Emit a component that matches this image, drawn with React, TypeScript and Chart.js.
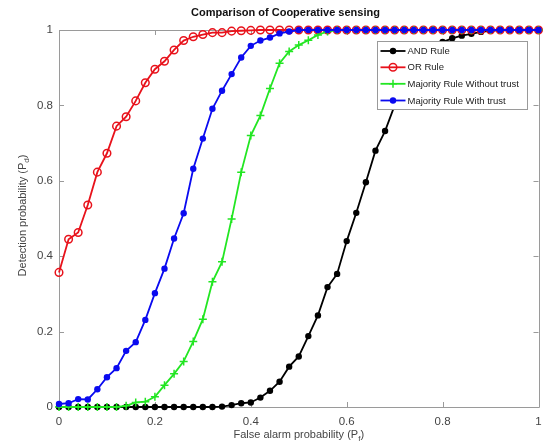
import React, { useEffect, useRef } from "react";
import { Chart, registerables } from "chart.js";

Chart.register(...registerables);

const X_VALUES = [
  0, 0.02, 0.04, 0.06, 0.08, 0.1, 0.12, 0.14, 0.16, 0.18,
  0.2, 0.22, 0.24, 0.26, 0.28, 0.3, 0.32, 0.34, 0.36, 0.38,
  0.4, 0.42, 0.44, 0.46, 0.48, 0.5, 0.52, 0.54, 0.56, 0.58,
  0.6, 0.62, 0.64, 0.66, 0.68, 0.7, 0.72, 0.74, 0.76, 0.78,
  0.8, 0.82, 0.84, 0.86, 0.88, 0.9, 0.92, 0.94, 0.96, 0.98, 1,
];

const AND_RULE = [
  0, 0, 0, 0, 0, 0, 0, 0, 0, 0,
  0, 0, 0, 0, 0, 0, 0, 0.001, 0.005, 0.01,
  0.012, 0.025, 0.043, 0.067, 0.107, 0.134, 0.188, 0.243, 0.318, 0.353,
  0.44, 0.515, 0.596, 0.68, 0.732, 0.8, 0.85, 0.89, 0.925, 0.95,
  0.968, 0.978, 0.985, 0.99, 0.995, 0.998, 1, 1, 1, 1, 1,
];

const OR_RULE = [
  0.357, 0.445, 0.463, 0.536, 0.623, 0.673, 0.745, 0.77, 0.812, 0.86,
  0.896, 0.917, 0.947, 0.972, 0.982, 0.988, 0.993, 0.993, 0.997, 0.998,
  0.999, 1, 1, 1, 1, 1, 1, 1, 1, 1,
  1, 1, 1, 1, 1, 1, 1, 1, 1, 1,
  1, 1, 1, 1, 1, 1, 1, 1, 1, 1, 1,
];

const MAJORITY_WITHOUT_TRUST = [
  0, 0, 0, 0, 0, 0, 0, 0.003, 0.012, 0.014,
  0.027, 0.058, 0.088, 0.121, 0.174, 0.233, 0.332, 0.385, 0.499, 0.623,
  0.72, 0.773, 0.845, 0.912, 0.943, 0.96, 0.973, 0.987, 0.996, 1,
  1, 1, 1, 1, 1, 1, 1, 1, 1, 1,
  1, 1, 1, 1, 1, 1, 1, 1, 1, 1, 1,
];

const MAJORITY_WITH_TRUST = [
  0.008, 0.01, 0.021, 0.02, 0.047, 0.079, 0.103, 0.149, 0.172, 0.231,
  0.302, 0.367, 0.447, 0.514, 0.632, 0.712, 0.791, 0.839, 0.883, 0.927,
  0.958, 0.972, 0.98, 0.991, 0.996, 1, 1, 1, 1, 1,
  1, 1, 1, 1, 1, 1, 1, 1, 1, 1,
  1, 1, 1, 1, 1, 1, 1, 1, 1, 1, 1,
];

const X_TICKS = [0, 0.2, 0.4, 0.6, 0.8, 1];
const Y_TICKS = [0, 0.2, 0.4, 0.6, 0.8, 1];

const SERIES_NAMES = [
  "AND Rule",
  "OR Rule",
  "Majority Rule Without trust",
  "Majority Rule With trust",
];

const TITLE = "Comparison of Cooperative sensing";
const X_LABEL = "False alarm probability (P";
const X_LABEL_SUB = "f";
const Y_LABEL = "Detection probability (P";
const Y_LABEL_SUB = "d";

const FONT = '"Liberation Sans", Arial, Helvetica, sans-serif';
const AXIS_COLOR = "#9a9a9a";
const TEXT_COLOR = "#454545";

const COLORS = ["#000000", "#e8121b", "#22e622", "#0a0af0"];
const MARKERS = ["dot", "ring", "plus", "dot"];

function toPoints(ys: number[]) {
  return X_VALUES.map((x, i) => ({ x, y: ys[i] }));
}

function drawMarker(ctx: CanvasRenderingContext2D, kind: string, color: string, x: number, y: number) {
  ctx.save();
  ctx.strokeStyle = color;
  ctx.fillStyle = color;
  if (kind === "dot") {
    ctx.beginPath();
    ctx.arc(x, y, 3.2, 0, Math.PI * 2);
    ctx.fill();
  } else if (kind === "ring") {
    ctx.lineWidth = 1.5;
    ctx.beginPath();
    ctx.arc(x, y, 3.8, 0, Math.PI * 2);
    ctx.stroke();
  } else {
    ctx.lineWidth = 1.5;
    ctx.beginPath();
    ctx.moveTo(x - 4, y);
    ctx.lineTo(x + 4, y);
    ctx.moveTo(x, y - 4);
    ctx.lineTo(x, y + 4);
    ctx.stroke();
  }
  ctx.restore();
}

const framePlugin = {
  id: "matlabFrame",
  beforeDatasetsDraw(chart: any) {
    const { ctx, chartArea } = chart;
    const { left, right, top, bottom } = chartArea;
    const xs = chart.scales.x;
    const ys = chart.scales.y;
    ctx.save();
    ctx.strokeStyle = AXIS_COLOR;
    ctx.lineWidth = 1;
    ctx.beginPath();
    ctx.rect(Math.round(left) + 0.5, Math.round(top) + 0.5, Math.round(right - left), Math.round(bottom - top));
    ctx.stroke();
    ctx.beginPath();
    X_TICKS.forEach((v) => {
      const px = Math.round(xs.getPixelForValue(v)) + 0.5;
      ctx.moveTo(px, bottom);
      ctx.lineTo(px, bottom - 5);
      ctx.moveTo(px, top);
      ctx.lineTo(px, top + 5);
    });
    Y_TICKS.forEach((v) => {
      const py = Math.round(ys.getPixelForValue(v)) + 0.5;
      ctx.moveTo(left, py);
      ctx.lineTo(left + 5, py);
      ctx.moveTo(right, py);
      ctx.lineTo(right - 5, py);
    });
    ctx.stroke();
    ctx.restore();
  },
  afterDatasetsDraw(chart: any) {
    const { ctx, chartArea } = chart;
    const boxL = Math.round(chartArea.right - 162) + 0.5;
    const boxT = Math.round(chartArea.top + 11) + 0.5;
    const boxW = 150;
    const boxH = 68;
    ctx.save();
    ctx.fillStyle = "#ffffff";
    ctx.fillRect(boxL, boxT, boxW, boxH);
    ctx.strokeStyle = AXIS_COLOR;
    ctx.lineWidth = 1;
    ctx.strokeRect(boxL, boxT, boxW, boxH);
    const rowYs = [9.5, 25.8, 42.3, 59];
    ctx.font = `9.5px ${FONT}`;
    ctx.textBaseline = "middle";
    ctx.textAlign = "left";
    SERIES_NAMES.forEach((name, i) => {
      const y = boxT + rowYs[i];
      ctx.strokeStyle = COLORS[i];
      ctx.lineWidth = 1.8;
      ctx.beginPath();
      ctx.moveTo(boxL + 3, y);
      ctx.lineTo(boxL + 28, y);
      ctx.stroke();
      drawMarker(ctx, MARKERS[i], COLORS[i], boxL + 15.5, y);
      ctx.fillStyle = "#222222";
      ctx.fillText(name, boxL + 30, y + 0.5);
    });
    ctx.restore();
  },
  afterDraw(chart: any) {
    const { ctx, chartArea } = chart;
    ctx.save();
    ctx.fillStyle = "#111111";
    ctx.font = `bold 11px ${FONT}`;
    ctx.textAlign = "center";
    ctx.textBaseline = "middle";
    ctx.fillText(TITLE, 285.5, 13);

    const mainFont = `11px ${FONT}`;
    const subFont = `8px ${FONT}`;
    ctx.fillStyle = TEXT_COLOR;
    ctx.textBaseline = "alphabetic";
    ctx.textAlign = "left";
    ctx.font = mainFont;
    const wMain = ctx.measureText(X_LABEL).width;
    const wClose = ctx.measureText(")").width;
    ctx.font = subFont;
    const wSub = ctx.measureText(X_LABEL_SUB).width;
    const total = wMain + wSub + wClose;
    const cx = (chartArea.left + chartArea.right) / 2;
    const x0 = cx - total / 2;
    const base = 438;
    ctx.font = mainFont;
    ctx.fillText(X_LABEL, x0, base);
    ctx.font = subFont;
    ctx.fillText(X_LABEL_SUB, x0 + wMain, base + 3);
    ctx.font = mainFont;
    ctx.fillText(")", x0 + wMain + wSub, base);

    ctx.translate(26, (chartArea.top + chartArea.bottom) / 2 - 3);
    ctx.rotate(-Math.PI / 2);
    ctx.font = mainFont;
    const yMain = ctx.measureText(Y_LABEL).width;
    ctx.font = subFont;
    const ySub = ctx.measureText(Y_LABEL_SUB).width;
    const yTotal = yMain + ySub + wClose;
    const y0 = -yTotal / 2;
    ctx.font = mainFont;
    ctx.fillText(Y_LABEL, y0, 0);
    ctx.font = subFont;
    ctx.fillText(Y_LABEL_SUB, y0 + yMain, 3);
    ctx.font = mainFont;
    ctx.fillText(")", y0 + yMain + ySub, 0);
    ctx.restore();
  },
};

export default function App() {
  const canvasRef = useRef<HTMLCanvasElement | null>(null);

  useEffect(() => {
    document.body.style.margin = "0";
    const canvas = canvasRef.current;
    if (!canvas) return;
    const series = [AND_RULE, OR_RULE, MAJORITY_WITHOUT_TRUST, MAJORITY_WITH_TRUST];
    const orders = [4, 3, 2, 1];
    const datasets = series.map((ys, i) => {
      const kind = MARKERS[i];
      return {
        label: SERIES_NAMES[i],
        data: toPoints(ys),
        borderColor: COLORS[i],
        backgroundColor: kind === "ring" ? "rgba(0,0,0,0)" : COLORS[i],
        borderWidth: 1.8,
        tension: 0,
        pointStyle: kind === "plus" ? "cross" : "circle",
        pointRadius: kind === "ring" ? 3.8 : kind === "plus" ? 4 : 3.2,
        pointBorderWidth: kind === "dot" ? 0 : 1.5,
        pointBackgroundColor: kind === "ring" ? "rgba(0,0,0,0)" : COLORS[i],
        pointBorderColor: COLORS[i],
        clip: false as any,
        order: orders[i],
      };
    });

    const chart = new Chart(canvas, {
      type: "line",
      data: { datasets: datasets as any },
      options: {
        responsive: false,
        maintainAspectRatio: false,
        animation: false,
        layout: { padding: { top: 30, right: 5, left: 0, bottom: 0 } },
        plugins: {
          legend: { display: false },
          title: { display: false },
          tooltip: { enabled: false },
        },
        scales: {
          x: {
            type: "linear",
            min: 0,
            max: 1,
            grid: { display: false, drawTicks: false },
            border: { display: false },
            afterBuildTicks: (s: any) => {
              s.ticks = X_TICKS.map((v) => ({ value: v }));
            },
            afterFit: (s: any) => {
              s.height = 39;
              s.paddingLeft = 0;
              s.paddingRight = 0;
            },
            ticks: {
              padding: 8,
              color: TEXT_COLOR,
              font: { family: FONT, size: 11.5 },
              maxRotation: 0,
              callback: (v: any) => String(v),
            },
          },
          y: {
            type: "linear",
            min: 0,
            max: 1,
            grid: { display: false, drawTicks: false },
            border: { display: false },
            afterBuildTicks: (s: any) => {
              s.ticks = Y_TICKS.map((v) => ({ value: v }));
            },
            afterFit: (s: any) => {
              s.width = 59;
              s.paddingTop = 0;
              s.paddingBottom = 0;
            },
            ticks: {
              padding: 6,
              color: TEXT_COLOR,
              font: { family: FONT, size: 11.5 },
              callback: (v: any) => String(v),
            },
          },
        },
      },
      plugins: [framePlugin],
    });

    return () => chart.destroy();
  }, []);

  return (
    <div style={{ width: 544, height: 446, position: "relative", background: "#fff" }}>
      <canvas ref={canvasRef} width={544} height={446} style={{ display: "block" }} />
    </div>
  );
}
